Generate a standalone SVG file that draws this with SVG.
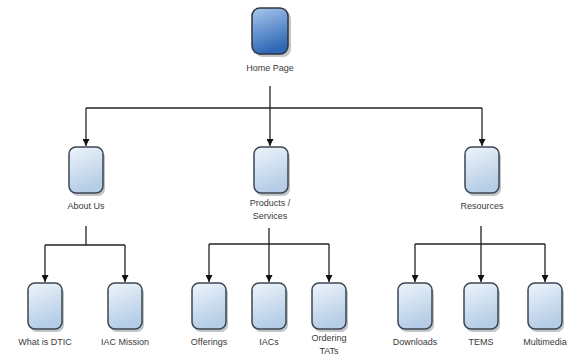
<svg xmlns="http://www.w3.org/2000/svg" width="581" height="356" viewBox="0 0 581 356">
<defs>
<linearGradient id="g1" x1="0" y1="0" x2="0.3" y2="1">
<stop offset="0" stop-color="#eef4fb"/>
<stop offset="1" stop-color="#b5cde6"/>
</linearGradient>
<linearGradient id="g2" x1="0" y1="0" x2="0.3" y2="1">
<stop offset="0" stop-color="#a9c8ee"/>
<stop offset="1" stop-color="#2f68b5"/>
</linearGradient>
<marker id="ar" viewBox="0 0 8 8" refX="4" refY="8" markerWidth="8" markerHeight="8" orient="auto-start-reverse" markerUnits="userSpaceOnUse">
<path d="M0,0 L8,0 L4,8 Z" fill="#111"/>
</marker>
<marker id="arv" viewBox="0 0 8 8" refX="8" refY="4" markerWidth="7" markerHeight="7" orient="auto" markerUnits="userSpaceOnUse">
<path d="M0,0 L8,4 L0,8 Z" fill="#111"/>
</marker>
</defs>
<style>
.box{fill:url(#g1);stroke:#3d4652;stroke-width:1.5}
.home{fill:url(#g2);stroke:#2e3540;stroke-width:1.5}
.sh{fill:#7a7f88;opacity:0.45}
.lbl{font-family:"Liberation Sans",Arial,sans-serif;font-size:9px;fill:#3a3a3a;text-anchor:middle}
.ln{fill:none;stroke:#222;stroke-width:1.3}
</style>
<rect width="581" height="356" fill="#ffffff"/>
<g id="connectors">
<path class="ln" d="M270,86 V108"/>
<path class="ln" d="M86,108 H482"/>
<path class="ln" d="M86,108 V146" marker-end="url(#arv)"/>
<path class="ln" d="M270,108 V146" marker-end="url(#arv)"/>
<path class="ln" d="M482,108 V146" marker-end="url(#arv)"/>
<path class="ln" d="M86,226 V245"/>
<path class="ln" d="M45,245 H125"/>
<path class="ln" d="M45,245 V282" marker-end="url(#arv)"/>
<path class="ln" d="M125,245 V282" marker-end="url(#arv)"/>
<path class="ln" d="M269,228 V244"/>
<path class="ln" d="M209,244 H329"/>
<path class="ln" d="M209,244 V282" marker-end="url(#arv)"/>
<path class="ln" d="M269,244 V282" marker-end="url(#arv)"/>
<path class="ln" d="M329,244 V282" marker-end="url(#arv)"/>
<path class="ln" d="M481,226 V244"/>
<path class="ln" d="M415,244 H545"/>
<path class="ln" d="M415,244 V282" marker-end="url(#arv)"/>
<path class="ln" d="M481,244 V282" marker-end="url(#arv)"/>
<path class="ln" d="M545,244 V282" marker-end="url(#arv)"/>
</g>
<g id="home">
<rect class="sh" x="255" y="11" width="36" height="46" rx="8"/>
<rect class="home" x="252" y="8" width="36" height="46" rx="8"/>
<text class="lbl" x="270" y="71">Home Page</text>
</g>
<g id="about">
<rect class="sh" x="71" y="150" width="34" height="46" rx="7"/>
<rect class="box" x="69" y="147" width="34" height="46" rx="7"/>
<text class="lbl" x="86" y="209">About Us</text>
</g>
<g id="products">
<rect class="sh" x="256" y="150" width="34" height="46" rx="7"/>
<rect class="box" x="254" y="147" width="34" height="46" rx="7"/>
<text class="lbl" x="270" y="206">Products /</text>
<text class="lbl" x="270" y="219">Services</text>
</g>
<g id="resources">
<rect class="sh" x="467" y="150" width="34" height="46" rx="7"/>
<rect class="box" x="465" y="147" width="34" height="46" rx="7"/>
<text class="lbl" x="482" y="209">Resources</text>
</g>
<g id="whatisdtic">
<rect class="sh" x="30" y="286" width="34" height="46" rx="7"/>
<rect class="box" x="28" y="283" width="34" height="46" rx="7"/>
<text class="lbl" x="45" y="345">What is DTIC</text>
</g>
<g id="iacmission">
<rect class="sh" x="110" y="286" width="34" height="46" rx="7"/>
<rect class="box" x="108" y="283" width="34" height="46" rx="7"/>
<text class="lbl" x="125" y="345">IAC Mission</text>
</g>
<g id="offerings">
<rect class="sh" x="194" y="286" width="34" height="46" rx="7"/>
<rect class="box" x="192" y="283" width="34" height="46" rx="7"/>
<text class="lbl" x="209" y="345">Offerings</text>
</g>
<g id="iacs">
<rect class="sh" x="254" y="286" width="34" height="46" rx="7"/>
<rect class="box" x="252" y="283" width="34" height="46" rx="7"/>
<text class="lbl" x="269" y="345">IACs</text>
</g>
<g id="ordering">
<rect class="sh" x="314" y="286" width="34" height="46" rx="7"/>
<rect class="box" x="312" y="283" width="34" height="46" rx="7"/>
<text class="lbl" x="329" y="341">Ordering</text>
<text class="lbl" x="329" y="354">TATs</text>
</g>
<g id="downloads">
<rect class="sh" x="400" y="286" width="34" height="46" rx="7"/>
<rect class="box" x="398" y="283" width="34" height="46" rx="7"/>
<text class="lbl" x="415" y="345">Downloads</text>
</g>
<g id="tems">
<rect class="sh" x="466" y="286" width="34" height="46" rx="7"/>
<rect class="box" x="464" y="283" width="34" height="46" rx="7"/>
<text class="lbl" x="481" y="345">TEMS</text>
</g>
<g id="multimedia">
<rect class="sh" x="530" y="286" width="34" height="46" rx="7"/>
<rect class="box" x="528" y="283" width="34" height="46" rx="7"/>
<text class="lbl" x="545" y="345">Multimedia</text>
</g>
</svg>
